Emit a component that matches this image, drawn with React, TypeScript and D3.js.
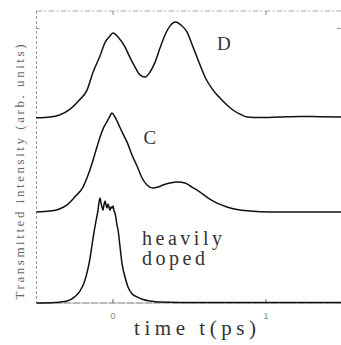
import React from "react";
import * as d3 from "d3";

// Curve D (offset above C)
const timeD = [-0.5, -0.41, -0.35, -0.28, -0.22, -0.17, -0.13, -0.085, -0.05, -0.025, 0, 0.033, 0.078, 0.11, 0.144, 0.176, 0.21, 0.242, 0.275, 0.307, 0.34, 0.373, 0.41, 0.444, 0.484, 0.523, 0.569, 0.608, 0.654, 0.699, 0.745, 0.784, 0.83, 0.876, 0.96, 1.09, 1.22, 1.35, 1.5];
const intensityD = [63.4, 63.7, 64.4, 66.4, 69.5, 72.9, 79.1, 84.6, 89.4, 91.1, 92.5, 91.1, 87.7, 84.2, 80.8, 78.1, 77.4, 79.1, 82.5, 87.3, 91.8, 94.9, 96.2, 95.2, 92.8, 87.7, 81.5, 76.7, 72.9, 70.2, 67.8, 66.1, 64.7, 63.7, 63.5, 63.7, 63.9, 63.8, 63.7];

// Curve C
const timeC = [-0.5, -0.41, -0.35, -0.3, -0.25, -0.196, -0.163, -0.13, -0.105, -0.085, -0.059, -0.04, -0.02, -0.007, 0.013, 0.033, 0.059, 0.092, 0.124, 0.157, 0.19, 0.222, 0.261, 0.294, 0.327, 0.373, 0.425, 0.47, 0.516, 0.569, 0.62, 0.68, 0.745, 0.81, 0.895, 1.03, 1.22, 1.5];
const intensityC = [31.2, 31.5, 32.2, 33.6, 36.3, 39.7, 43.8, 49.0, 53.4, 56.8, 60.3, 62.0, 64.0, 65.1, 63.7, 61.6, 58.6, 55.1, 50.7, 46.9, 42.8, 40.4, 39.4, 39.7, 40.4, 41.1, 41.4, 41.1, 39.7, 38.0, 36.0, 34.2, 32.9, 32.0, 31.5, 31.2, 31.2, 31.2];

// Heavily doped
const timeH = [-0.5, -0.38, -0.3, -0.25, -0.216, -0.19, -0.17, -0.15, -0.137, -0.124, -0.111, -0.098, -0.092, -0.085, -0.078, -0.072, -0.065, -0.059, -0.052, -0.046, -0.039, -0.033, -0.026, -0.02, -0.013, -0.007, 0, 0.007, 0.013, 0.02, 0.026, 0.033, 0.046, 0.059, 0.078, 0.098, 0.124, 0.157, 0.196, 0.242, 0.307, 0.438, 1.5];
const intensityH = [0, 0.2, 0.7, 2.1, 4.1, 6.8, 10.3, 15.4, 19.9, 24.3, 28.1, 31.8, 34.2, 36.0, 34.2, 32.9, 31.8, 33.6, 34.9, 33.6, 32.5, 33.9, 32.9, 31.8, 32.9, 32.5, 33.2, 31.5, 30.8, 28.8, 26.7, 25.0, 19.2, 13.5, 9.0, 5.5, 3.2, 2.1, 1.2, 0.7, 0.3, 0.2, 0.2];

const xTicks = [0, 1];
const curveLabels = ["D", "C"];
const labelTimes = [0.68, 0.2];
const labelIntensities = [86.5, 54.5];
const noteLines = ["heavily", "doped"];

export default function App() {
  const W = 341, H = 345;
  const x = d3.scaleLinear().domain([-0.5, 1.5]).range([36.5, 342.5]);
  const y = d3.scaleLinear().domain([0, 100]).range([303, 11]);
  const line = d3.line<[number, number]>().x(d => x(d[0])).y(d => y(d[1])).curve(d3.curveMonotoneX);
  const series = [
    d3.zip(timeD, intensityD) as [number, number][],
    d3.zip(timeC, intensityC) as [number, number][],
    d3.zip(timeH, intensityH) as [number, number][],
  ];
  const gray = "#888";
  return (
    <svg width={W} height={H} style={{ position: "absolute", left: 0, top: 0, background: "#fff" }}>
      {/* frame */}
      <line x1={x(-0.5)} x2={W} y1={y(100)} y2={y(100)} stroke="#aaa" strokeWidth={1} strokeDasharray="6 2 2 2" />
      <line x1={x(-0.5)} x2={x(-0.5)} y1={y(100)} y2={y(0)} stroke="#999" strokeWidth={1} strokeDasharray="3 2" />
      <line x1={x(-0.5)} x2={W} y1={y(0)} y2={y(0)} stroke="#777" strokeWidth={1.2} strokeDasharray="8 1" />
      {xTicks.map(t => (
        <g key={t}>
          <line x1={x(t)} x2={x(t)} y1={y(0)} y2={y(0) - 4} stroke="#666" />
          <line x1={x(t)} x2={x(t)} y1={y(100)} y2={y(100) + 4} stroke="#888" />
          <text x={x(t)} y={y(0) + 16} fontSize={9} fill={gray} textAnchor="middle" fontFamily="Liberation Sans">{t}</text>
        </g>
      ))}
      <line x1={x(-0.5)} x2={x(-0.5) + 3} y1={y(94)} y2={y(94)} stroke="#999" />
      <line x1={W - 4} x2={W} y1={y(94)} y2={y(94)} stroke="#999" />
      {series.map((s, i) => (
        <path key={i} d={line(s) || ""} fill="none" stroke="#111" strokeWidth={1.5} />
      ))}
      {curveLabels.map((l, i) => (
        <text key={l} x={x(labelTimes[i])} y={y(labelIntensities[i])} fontSize={19} fontFamily="Liberation Serif" fill="#333">{l}</text>
      ))}
      {noteLines.map((l, i) => (
        <text key={l} x={142} y={245 + i * 20} fontSize={20} fontFamily="Liberation Serif" fill="#333" textLength={i === 0 ? 80 : 63} lengthAdjust="spacing">{l}</text>
      ))}
      <text x={195} y={335} fontSize={21} fontFamily="Liberation Serif" fill="#333" textAnchor="middle" textLength={122} lengthAdjust="spacing">time t(ps)</text>
      <text transform="translate(24,172) rotate(-90)" fontSize={13} fontFamily="Liberation Serif" fill="#666" textAnchor="middle" textLength={255} lengthAdjust="spacing">Transmitted intensity (arb. units)</text>
    </svg>
  );
}
